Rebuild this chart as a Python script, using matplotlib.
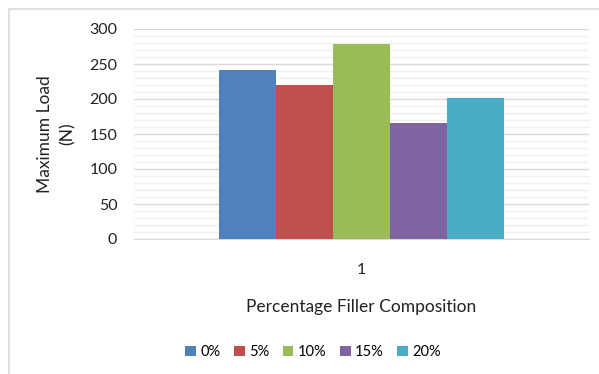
import numpy as np
import matplotlib.pyplot as plt
from matplotlib.patches import Rectangle

plt.rcParams['font.family'] = ['Lato', 'DejaVu Sans']

categories = ['1']
series = ['0%', '5%', '10%', '15%', '20%']
loads = [242, 220, 279, 166, 201]
colors = ['#4f81bd', '#c0504d', '#9bbb59', '#8064a2', '#4bacc6']

fig = plt.figure(figsize=(5.99, 3.74), dpi=100)
ax = fig.add_axes([134 / 599, 1 - 239 / 374, 455 / 599, 210 / 374])

# chart frame
fig.patches.append(Rectangle((9 / 599, -0.1), 1.0, 1.1 - 9 / 374, transform=fig.transFigure,
                             fill=False, edgecolor='#d9d9d9', linewidth=1.2, zorder=0))

x = np.arange(len(categories))
width = 0.1253
for i, (name, val, c) in enumerate(zip(series, loads, colors)):
    ax.bar(x + (i - 2) * width, [val], width, color=c, label=name, zorder=3)

ax.set_xlim(-0.5, 0.5)
ax.set_ylim(0, 300)
ax.set_yticks(np.arange(0, 301, 50))
ax.set_yticks(np.arange(0, 301, 10), minor=True)
ax.set_xticks(x)
ax.set_xticklabels(categories)
ax.grid(axis='y', which='major', color='#d9d9d9', linewidth=1.0, zorder=0)
ax.grid(axis='y', which='minor', color='#f0f0f0', linewidth=1.0, zorder=0)
for s in ['top', 'right', 'left']:
    ax.spines[s].set_visible(False)
ax.spines['bottom'].set_color('#d9d9d9')
ax.tick_params(axis='both', which='both', length=0, labelsize=11.5, colors='#222222')
ax.tick_params(axis='y', pad=12)
ax.tick_params(axis='x', pad=17)

ax.set_ylabel('Maximum Load\n(N)', fontsize=12.5, color='#222222', labelpad=10,
              linespacing=1.5)
ax.set_xlabel('Percentage Filler Composition', fontsize=12.5, color='#222222', labelpad=16)

fig.legend(loc='center', bbox_to_anchor=(313 / 599, 1 - 352 / 374), ncol=5, frameon=False,
           fontsize=10.5, handlelength=0.75, handleheight=0.75, handletextpad=0.3,
           columnspacing=0.9)

fig.savefig('out.png', dpi=100)
